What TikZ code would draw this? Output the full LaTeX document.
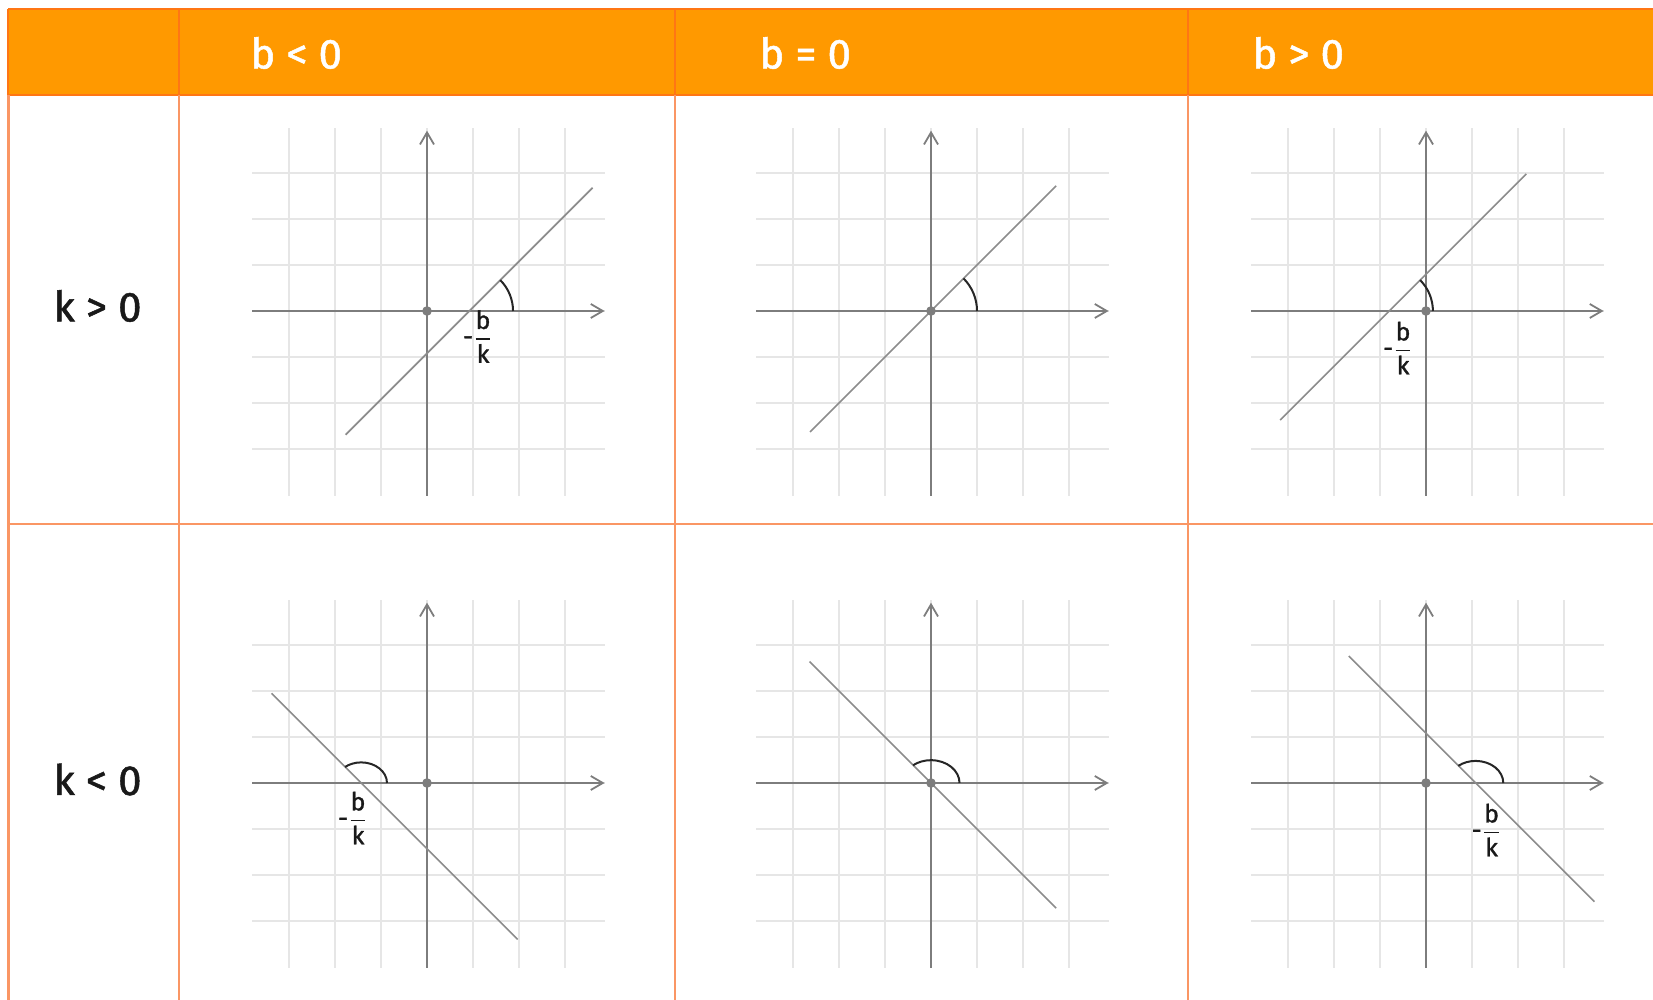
\documentclass[tikz,border=0pt]{standalone}
\usepackage{fontspec}
\usepackage{amsmath}
\setmainfont{Fira Sans}
\newfontfamily\medfont{Fira Sans}[FakeBold=1.2]
\usetikzlibrary{arrows.meta, positioning}
\definecolor{headorange}{RGB}{255,153,0}
\definecolor{headline}{RGB}{255,118,20}
\definecolor{cellline}{RGB}{250,150,100}
\definecolor{gridgray}{RGB}{230,230,230}
\definecolor{axisgray}{RGB}{125,125,125}
\definecolor{linegray}{RGB}{140,140,140}
\definecolor{labeldark}{RGB}{25,25,25}
\tikzset{
  headtext/.style={anchor=base west, text=white, font=\medfont\fontsize{21}{24}\selectfont, inner sep=0pt},
  rowtext/.style={anchor=base west, text=labeldark, font=\medfont\fontsize{21}{24}\selectfont, inner sep=0pt},
  headrule/.style={draw=headline, line width=1pt},
  cellrule/.style={draw=cellline, line width=1.1pt},
  gridline/.style={draw=gridgray, line width=0.7pt},
  axisline/.style={draw=axisgray, line width=1pt, -{Straight Barb[length=6pt, width=7pt, line width=0.9pt]}},
  fnline/.style={draw=linegray, line width=0.85pt},
  anglearc/.style={draw=black!85, line width=1pt},
  origdot/.style={circle, fill=axisgray, inner sep=0pt, minimum size=4.8pt},
  fraclabel/.style={font=\medfont\fontsize{12.5}{13}\selectfont, text=labeldark, inner sep=0pt},
}
\newcommand{\negfrac}{$\text{-}\genfrac{}{}{0.7pt}{0}{\text{b}}{\text{k}}$}

\begin{document}
\begin{tikzpicture}[x=0.5pt, y=0.5pt]
\useasboundingbox (0,0) rectangle (1653,1000);

\fill[headorange] (8.4,905) rectangle (1653,990.5);
\draw[headrule] (8.4,990.5) -- (1653,990.5);
\draw[headrule] (8.4,905) -- (1653,905);
\foreach \colx in {8.4,179,675,1188} {
  \draw[headrule] (\colx,990.5) -- (\colx,905);
  \draw[cellrule] (\colx,905) -- (\colx,0);
}
\draw[cellrule] (8.4,476) -- (1653,476);

\node[headtext] (hbneg) at (250,931.5) {b < 0};
\node[headtext] (hbzero) at (759,931.5) {b = 0};
\node[headtext] (hbpos) at (1252,931.5) {b > 0};
\node[rowtext] (rkpos) at (53,678.5) {k > 0};
\node[rowtext] (rkneg) at (53,205) {k < 0};

\foreach \cell/\ox/\oy/\slope/\icpt/\xa/\xb/\rad in {
    tl/427/689/1/-0.92/-1.77/3.6/0.95,
    tm/931/689/1/0/-2.63/2.72/1.0,
    tr/1426/689/1/0.8/-3.17/2.18/0.95,
    bl/427/217/-1/-1.43/-3.38/1.97/0.56,
    bm/931/217/-1/0/-2.64/2.72/0.62,
    br/1426/217/-1/1.08/-1.68/3.66/0.6} {
  \begin{scope}[shift={(\ox,\oy)}, x=23pt, y=23pt]
    \foreach \i in {-3,...,3} {
      \draw[gridline] (\i,-4.02) -- (\i,3.98);
      \draw[gridline] (-3.8,\i) -- (3.86,\i);
    }
    \draw[axisline] (-3.8,0) -- (3.86,0);
    \draw[axisline] (0,-4.02) -- (0,3.92);
    \draw[fnline] (\xa,{\slope*\xa+\icpt}) -- (\xb,{\slope*\xb+\icpt});
    \pgfmathsetmacro{\xcut}{-\icpt/\slope}
    \pgfmathsetmacro{\arcend}{\slope>0 ? 45 : 129}
    \pgfmathsetmacro{\yrad}{\slope>0 ? \rad : 0.8*\rad}
    \draw[anglearc] ({\xcut+\rad},0) arc[start angle=0, end angle=\arcend, x radius=\rad, y radius=\yrad];
    \node[origdot] (o\cell) at (0,0) {};
  \end{scope}
}

\node[fraclabel] (ftl) at (478,663.5) {\negfrac};
\node[fraclabel] (ftr) at (1398,652) {\negfrac};
\node[fraclabel] (fbl) at (353,182) {\negfrac};
\node[fraclabel] (fbr) at (1486.5,170) {\negfrac};
\end{tikzpicture}
\end{document}
